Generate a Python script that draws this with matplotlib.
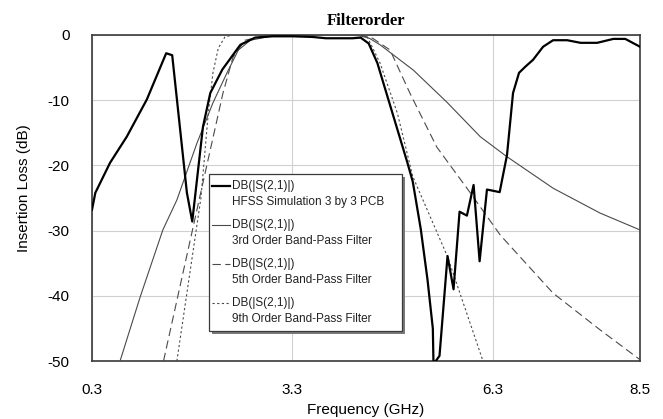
import numpy as np
import matplotlib
matplotlib.use('Agg')
import matplotlib.pyplot as plt
from matplotlib.patches import Rectangle
from matplotlib.lines import Line2D

# HFSS simulation, 3 by 3 PCB
f_hfss = [0.30, 0.35, 0.57, 0.82, 1.12, 1.41, 1.50, 1.72, 1.80, 1.84, 1.96, 2.07,
          2.25, 2.52, 2.74, 3.00, 3.30, 3.60, 3.80, 4.20, 4.32, 4.44, 4.57, 4.72,
          4.87, 5.02, 5.10, 5.22, 5.32, 5.40, 5.41, 5.50, 5.62, 5.71, 5.80, 5.91,
          6.01, 6.10, 6.21, 6.40, 6.51, 6.60, 6.69, 6.78, 6.90, 7.05, 7.20, 7.41,
          7.61, 7.86, 8.10, 8.28, 8.50]
s21_hfss = [-26.8, -24.2, -19.6, -15.6, -9.9, -2.8, -3.1, -24.2, -28.6, -25.0, -14.1, -8.9,
            -5.3, -1.5, -0.4, -0.2, -0.2, -0.3, -0.5, -0.5, -0.4, -1.3, -4.3, -9.4,
            -14.5, -19.6, -22.5, -29.8, -37.5, -45.0, -50.5, -49.2, -33.9, -39.0, -27.1, -27.7,
            -23.0, -34.7, -23.7, -24.1, -18.4, -8.9, -5.8, -4.9, -3.8, -1.8, -0.8, -0.8,
            -1.2, -1.2, -0.6, -0.6, -1.8]

# 3rd order band-pass
f_3rd = [0.72, 1.02, 1.36, 1.57, 1.87, 2.11, 2.32, 2.49, 2.67, 2.97, 3.30, 4.00,
         4.30, 4.45, 4.61, 5.11, 5.61, 6.11, 6.50, 7.20, 7.90, 8.50]
s21_3rd = [-50.0, -40.2, -29.9, -25.3, -16.6, -10.4, -5.8, -2.3, -0.8, -0.2, 0.0, 0.0,
           -0.1, -0.5, -1.5, -5.4, -10.3, -15.6, -18.6, -23.5, -27.3, -29.9]

# 5th order band-pass
f_5th = [1.37, 1.92, 2.26, 2.41, 2.59, 2.90, 3.30, 4.30, 4.50, 4.76, 5.07, 5.46,
         5.96, 6.41, 7.20, 7.90, 8.50]
s21_5th = [-50.0, -24.5, -8.9, -3.4, -0.8, -0.1, 0.0, 0.0, -0.5, -2.3, -9.2, -17.2,
           -24.2, -30.7, -39.6, -45.2, -49.8]

# 9th order band-pass
f_9th = [1.57, 1.93, 2.04, 2.11, 2.19, 2.29, 2.40, 4.30, 4.42, 4.61, 4.87, 5.10,
         5.62, 6.15]
s21_9th = [-50.0, -25.0, -12.0, -5.8, -2.0, -0.3, 0.0, 0.0, -0.3, -4.3, -12.0, -21.7,
           -34.0, -50.0]

x_ticks = [0.3, 3.3, 6.3, 8.5]
y_ticks = [0, -10, -20, -30, -40, -50]
legend_labels = ['DB(|S(2,1)|)\nHFSS Simulation 3 by 3 PCB',
                 'DB(|S(2,1)|)\n3rd Order Band-Pass Filter',
                 'DB(|S(2,1)|)\n5th Order Band-Pass Filter',
                 'DB(|S(2,1)|)\n9th Order Band-Pass Filter']

plt.rcParams['font.family'] = ['Liberation Sans', 'DejaVu Sans']

fig = plt.figure(figsize=(6.63, 4.19), dpi=100)
ax = fig.add_axes([92/663, 1-361/419, 548/663, 326/419])

grid_c = '#d0d0d0'
for xv in x_ticks:
    ax.axvline(xv, color=grid_c, lw=0.8, zorder=0)
for yv in y_ticks:
    ax.axhline(yv, color=grid_c, lw=0.8, zorder=0)

styles = []
l1, = ax.plot(f_hfss, s21_hfss, color='black', lw=1.6, zorder=5)
l3, = ax.plot(f_3rd, s21_3rd, color='#4a4a4a', lw=0.8, zorder=4)
l5, = ax.plot(f_5th, s21_5th, color='#4a4a4a', lw=0.8, zorder=4, dashes=(7.5, 4))
l9, = ax.plot(f_9th, s21_9th, color='#4a4a4a', lw=0.8, zorder=4, dashes=(2, 2.2))

ax.set_xlim(0.3, 8.5)
ax.set_ylim(-50, 0)
ax.set_xticks(x_ticks)
ax.set_xticklabels(['0.3', '3.3', '6.3', '8.5'])
ax.set_yticks(y_ticks)
ax.set_yticklabels([str(v) for v in y_ticks])
ax.tick_params(length=0, labelsize=11)
ax.tick_params(axis='x', pad=16)
ax.tick_params(axis='y', pad=16)
for sp in ax.spines.values():
    sp.set_color('#3a3a3a')
    sp.set_linewidth(1.2)

ax.set_xlabel('Frequency (GHz)', fontsize=11)
ax.xaxis.set_label_coords(0.5, -0.128)
ax.set_ylabel('Insertion Loss (dB)', fontsize=11)
ax.yaxis.set_label_coords(-0.112, 0.53)
ax.set_title('Filterorder', family='Liberation Serif', fontweight='bold',
             fontsize=12, pad=7)

# legend drawn by hand so the sample line sits on the first text line
W, H = 548.0, 326.0
bx0, bx1 = (209-92)/W, (402-92)/W
by0, by1 = (361-331)/H, (361-174)/H
ax.add_patch(Rectangle((bx0 + 3/W, by0 - 3/H), bx1-bx0, by1-by0,
                       transform=ax.transAxes, facecolor='#7a7a7a',
                       edgecolor='none', zorder=8, clip_on=False))
ax.add_patch(Rectangle((bx0, by0), bx1-bx0, by1-by0, transform=ax.transAxes,
                       facecolor='white', edgecolor='#3a3a3a', lw=0.9,
                       zorder=9, clip_on=False))
for i, (lab, src) in enumerate(zip(legend_labels, [l1, l3, l5, l9])):
    py = 186 + 39*i
    yl = (361-py)/H
    ln = Line2D([(212-92)/W, (230-92)/W], [yl, yl], transform=ax.transAxes,
                color=src.get_color(), lw=src.get_linewidth(),
                linestyle=src.get_linestyle(), zorder=10)
    if i == 2:
        ln.set_dashes((7.5, 4))
    if i == 3:
        ln.set_dashes((2, 2.2))
    ax.add_line(ln)
    top, bot = lab.split('\n')
    ax.text((232-92)/W, yl, top, transform=ax.transAxes, fontsize=8.5,
            va='center', ha='left', color='#222222', zorder=10)
    ax.text((232-92)/W, (361-py-15.5)/H, bot, transform=ax.transAxes,
            fontsize=8.5, va='center', ha='left', color='#222222', zorder=10)

plt.savefig('out.png', dpi=100)
